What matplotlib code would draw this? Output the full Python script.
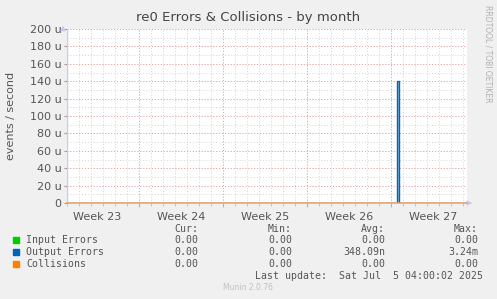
import matplotlib
matplotlib.use("Agg")
import matplotlib.pyplot as plt
import matplotlib.transforms as mtrans

# time axis in days, day 0 = start of Week 24
week_bounds = [0, 7, 14, 21]
week_centers = [-3.5, 3.5, 10.5, 17.5, 24.5]
week_labels = ["Week 23", "Week 24", "Week 25", "Week 26", "Week 27"]
t_start, t_end = -6.0, 27.33

# series (events / second, in micro units), drawn as steps
input_t = [-6.0, 27.33]
input_v = [0, 0]
output_t = [-6.0, 21.5, 21.67, 27.33]
output_v = [0, 140, 0, 0]
coll_t = [-6.0, 27.33]
coll_v = [0, 0]

y_ticks = [0, 20, 40, 60, 80, 100, 120, 140, 160, 180, 200]

names = ["Input Errors", "Output Errors", "Collisions"]
colors = ["#00CC00", "#0066B3", "#FF8000"]
cur = ["0.00", "0.00", "0.00"]
mins = ["0.00", "0.00", "0.00"]
avgs = ["0.00", "348.09n", "0.00"]
maxs = ["0.00", "3.24m", "0.00"]

W, H = 497, 299
fig = plt.figure(figsize=(W / 100, H / 100), dpi=100, facecolor="#F0F0F0")
ax = fig.add_axes([67 / W, (H - 203) / H, 400 / W, 174 / H])
ax.set_facecolor("white")

# grid
for d in range(-6, 28):
    ax.axvline(d, color="#d4d4d4", lw=0.7, ls=(0, (1, 2)), zorder=1)
for y in range(10, 201, 10):
    ax.axhline(y, color="#d4d4d4", lw=0.7, ls=(0, (1, 2)), zorder=1)
for y in y_ticks[1:]:
    ax.axhline(y, color="#e8a0a0", lw=0.7, ls=(0, (1, 2)), zorder=1.5)
for b in week_bounds:
    ax.axvline(b, color="#e8a0a0", lw=0.7, ls=(0, (1, 2)), zorder=1.5)

ax.plot(input_t, input_v, color=colors[0], lw=1, drawstyle="steps-post", zorder=3)
ax.fill_between(output_t, output_v, step="post", color=colors[1], alpha=0.4, lw=0, zorder=3)
ax.plot(output_t, output_v, color=colors[1], lw=1, drawstyle="steps-post", zorder=3)
ax.plot(coll_t, coll_v, color="#f0a070", lw=1.1, drawstyle="steps-post", zorder=5,
        clip_on=False)

ax.set_xlim(t_start, t_end)
ax.set_ylim(0, 200)
for s in ax.spines.values():
    s.set_visible(False)
ax.axvline(t_start, color="#c8c8f0", lw=1, zorder=2)
ax.annotate("", xy=(-0.01, 1.035), xytext=(-0.01, 0.98), xycoords="axes fraction",
            arrowprops=dict(arrowstyle="-|>", color="#c8c8f0", lw=0.8, mutation_scale=7))
ax.annotate("", xy=(1.02, 0.0), xytext=(0.99, 0.0), xycoords="axes fraction",
            arrowprops=dict(arrowstyle="-|>", color="#c8c8f0", lw=0.8, mutation_scale=7))

ax.set_yticks(y_ticks)
ax.set_yticklabels([("%d u" % v) if v else "0" for v in y_ticks])
ax.set_xticks(week_bounds)
ax.set_xticklabels([])
ax.set_xticks(range(-6, 28), minor=True)
ax.tick_params(axis="y", length=2, color="#999999", labelsize=8, labelcolor="#555555", pad=2)
ax.tick_params(axis="x", which="major", length=3, color="#e8a0a0")
ax.tick_params(axis="x", which="minor", length=2, color="#bbbbbb")

tr = mtrans.blended_transform_factory(ax.transData, ax.transAxes)
for c, lab in zip(week_centers, week_labels):
    ax.text(c, -0.05, lab, transform=tr, ha="center", va="top", fontsize=8, color="#555555")

ax.set_ylabel("events / second", fontsize=8, color="#555555", labelpad=10)

fig.text(248 / W, 1 - 18 / H, "re0 Errors & Collisions - by month", ha="center", va="center",
         fontsize=9.5, color="#444444")
fig.text(488 / W, 1 - 5 / H, "RRDTOOL / TOBI OETIKER", rotation=270, ha="center", va="top",
         fontsize=5.5, color="#b0b0b0")

mono = "DejaVu Sans Mono"
fs = 7.1
tc = "#555555"
fig.text(198 / W, 1 - 229 / H, "Cur:", ha="right", va="center", family=mono, fontsize=fs, color=tc)
fig.text(292 / W, 1 - 229 / H, "Min:", ha="right", va="center", family=mono, fontsize=fs, color=tc)
fig.text(385 / W, 1 - 229 / H, "Avg:", ha="right", va="center", family=mono, fontsize=fs, color=tc)
fig.text(478 / W, 1 - 229 / H, "Max:", ha="right", va="center", family=mono, fontsize=fs, color=tc)
for i, name in enumerate(names):
    y = 1 - (240 + 12 * i) / H
    fig.patches.append(plt.Rectangle((13 / W, y - 3 / H), 6 / W, 6 / H, transform=fig.transFigure,
                                     color=colors[i]))
    fig.text(26 / W, y, name, ha="left", va="center", family=mono, fontsize=fs, color=tc)
    fig.text(198 / W, y, cur[i], ha="right", va="center", family=mono, fontsize=fs, color=tc)
    fig.text(292 / W, y, mins[i], ha="right", va="center", family=mono, fontsize=fs, color=tc)
    fig.text(385 / W, y, avgs[i], ha="right", va="center", family=mono, fontsize=fs, color=tc)
    fig.text(478 / W, y, maxs[i], ha="right", va="center", family=mono, fontsize=fs, color=tc)
fig.text(483 / W, 1 - 276 / H, "Last update:  Sat Jul  5 04:00:02 2025", ha="right", va="center",
         family=mono, fontsize=fs, color=tc)
fig.text(248 / W, 1 - 288 / H, "Munin 2.0.76", ha="center", va="center", fontsize=5.5, color="#c0c0c0")

fig.savefig("out.png", dpi=100, facecolor=fig.get_facecolor())
